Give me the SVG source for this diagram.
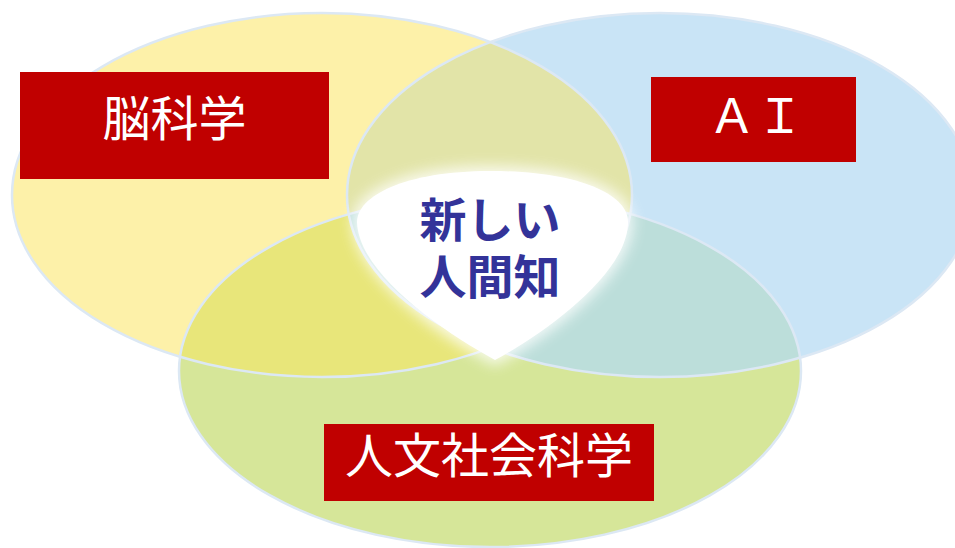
<svg xmlns="http://www.w3.org/2000/svg" width="955" height="548" viewBox="0 0 955 548">
<style>
.lbl{font-family:"Noto Sans CJK JP","Noto Sans CJK SC",sans-serif;font-size:48px;fill:#ffffff;text-anchor:middle}
.ctr{font-family:"Noto Sans CJK JP","Noto Sans CJK SC",sans-serif;font-size:47px;font-weight:bold;fill:#333399;text-anchor:middle}
.box{fill:#C00000}
.edge{fill:none;stroke:#DCE8F4;stroke-width:2.5}
</style>
<defs>
<ellipse id="eY" cx="322" cy="195" rx="310" ry="182"/>
<ellipse id="eB" cx="660" cy="195" rx="313" ry="182"/>
<ellipse id="eG" cx="490" cy="371" rx="311" ry="176"/>
<clipPath id="cY"><use href="#eY"/></clipPath>
<clipPath id="cB"><use href="#eB"/></clipPath>
<clipPath id="cG"><use href="#eG"/></clipPath>
<filter id="glow" x="-20%" y="-20%" width="140%" height="140%"><feGaussianBlur stdDeviation="7"/></filter>
<path id="heart" d="M495 360 C440 330 358 272 357 222 C357 196 405 171 490 171 C578 171 628 194 628 222 C628 272 550 330 495 360 Z"/>
</defs>
<g id="sets">
<use href="#eY" fill="#FDF1A9"/>
<use href="#eB" fill="#C9E4F6"/>
<use href="#eG" fill="#D6E699"/>
<g clip-path="url(#cY)"><use href="#eB" fill="#E2E4A8"/></g>
<g clip-path="url(#cY)"><use href="#eG" fill="#E8E67A"/></g>
<g clip-path="url(#cB)"><use href="#eG" fill="#BCDEDA"/></g>
<use href="#eY" class="edge"/>
<use href="#eB" class="edge"/>
<use href="#eG" class="edge"/>
</g>
<g id="center">
<use href="#heart" fill="#ffffff" stroke="#ffffff" stroke-width="10" opacity="0.8" filter="url(#glow)"/>
<use href="#heart" fill="#ffffff"/>
<text class="ctr" x="490" y="237">新しい</text>
<text class="ctr" x="490" y="294">人間知</text>
</g>
<g id="node-brain">
<rect class="box" x="20" y="72" width="309" height="107"/>
<text class="lbl" x="174.5" y="136">脳科学</text>
</g>
<g id="node-ai">
<rect class="box" x="651" y="77" width="205" height="85"/>
<text class="lbl" x="756" y="133">ＡＩ</text>
</g>
<g id="node-humanities">
<rect class="box" x="324" y="424" width="330" height="77"/>
<text class="lbl" x="489" y="473">人文社会科学</text>
</g>
<g id="connectors"/>
</svg>
